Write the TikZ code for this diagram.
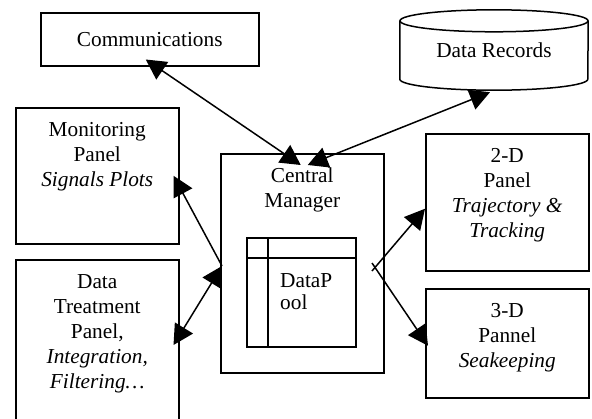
\documentclass[tikz,border=0pt]{standalone}
\usepackage{fontspec}
\setmainfont{Liberation Serif}
\usetikzlibrary{arrows.meta}

\begin{document}
\begin{tikzpicture}[x=1pt,y=-1pt,
  every node/.style={font=\fontsize{21.3}{25}\selectfont},
  panel/.style={draw,line width=1.5pt,rectangle,inner sep=0pt,anchor=north west},
  txt/.style={align=center,inner sep=0pt,anchor=north},
  link/.style={line width=1.5pt},
  >={Triangle[length=20pt,width=21pt]}]
  \useasboundingbox (0,0) rectangle (592,418);

  % Communications and Data Records
  \node[panel,minimum width=218pt,minimum height=53pt] (comm) at (40,12) {Communications};
  \node[minimum width=188pt,minimum height=80pt,inner sep=0pt] (rec) at (494,50) {Data Records};
  \draw[link] ([yshift=-11pt]rec.north) ellipse[x radius=94pt,y radius=11pt];
  \draw[link] ([yshift=-11pt]rec.north west) -- ([yshift=11pt]rec.south west)
    arc[start angle=180,end angle=360,x radius=94pt,y radius=11pt] -- ([yshift=-11pt]rec.north east);

  % Left panels
  \node[panel,minimum width=163pt,minimum height=136pt] (mon) at (15,107) {};
  \node[txt] (monT) at ([yshift=-15pt]mon.north) {Monitoring\\Panel\\\textit{Signals Plots}};
  \node[panel,minimum width=163pt,minimum height=181pt] (trt) at (15,259) {};
  \node[txt] (trtT) at ([yshift=-15pt]trt.north) {Data\\Treatment\\Panel,\\\textit{Integration,}\\\textit{Filtering…}};

  % Central manager with the data pool
  \node[panel,minimum width=163pt,minimum height=219pt] (cen) at (220,153) {};
  \node[txt] (cenT) at ([yshift=-15pt]cen.north) {Central\\Manager};
  \node[panel,minimum width=109pt,minimum height=109pt] (pool) at (246,237) {};
  \draw[link] ([xshift=22pt]pool.north west) -- ([xshift=22pt]pool.south west);
  \draw[link] ([yshift=-21pt]pool.north west) -- ([yshift=-21pt]pool.north east);
  \node[txt,anchor=north west,align=left,font=\fontsize{21.3}{22}\selectfont] (poolT)
    at ([xshift=34pt,yshift=-36pt]pool.north west) {DataP\\ool};

  % Right panels
  \node[panel,minimum width=163pt,minimum height=137pt] (twoD) at (425,133) {};
  \node[txt] (twoDT) at ([yshift=-15pt]twoD.north) {2-D\\Panel\\\textit{Trajectory \&}\\\textit{Tracking}};
  \node[panel,minimum width=163pt,minimum height=109pt] (threeD) at (425,288) {};
  \node[txt] (threeDT) at ([yshift=-15pt]threeD.north) {3-D\\Pannel\\\textit{Seakeeping}};

  % Links
  \coordinate (hubL) at (222,266);
  \coordinate (hubR) at (375,267);
  \draw[link,<->] ([xshift=-4pt,yshift=7pt]comm.south) -- ([xshift=-1.5pt,yshift=-12pt]cen.north);
  \draw[link,<->] ([xshift=-4pt,yshift=-2pt]rec.south) -- ([xshift=5.5pt,yshift=-12pt]cen.north);
  \draw[link,->] (hubL) -- ([xshift=-6pt]mon.east);
  \draw[link,<->] (hubL) -- ([xshift=-6pt,yshift=-86pt]trt.north east);
  \draw[link,->] ([xshift=-3pt,yshift=-4pt]hubR) -- ([yshift=-6.5pt]twoD.west);
  \draw[link,->] ([xshift=-3pt,yshift=4pt]hubR) -- ([xshift=3pt,yshift=-2.5pt]threeD.west);
\end{tikzpicture}
\end{document}
